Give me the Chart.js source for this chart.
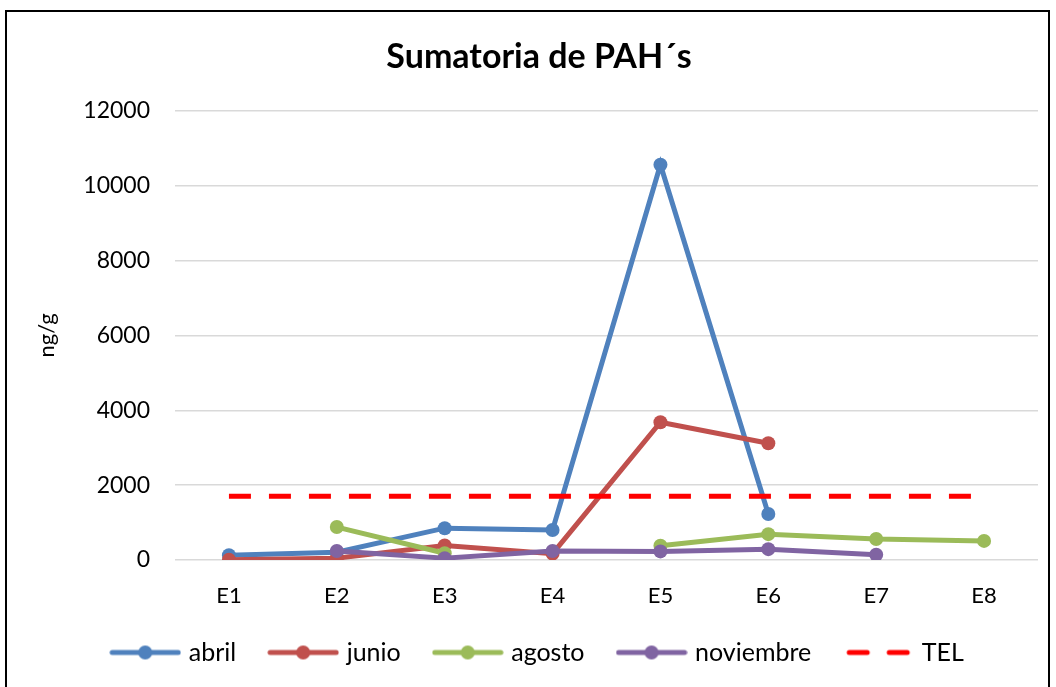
<!DOCTYPE html>
<html>
<head>
<meta charset="utf-8">
<script src="https://cdn.jsdelivr.net/npm/chart.js@4/dist/chart.umd.min.js"></script>
<style>
  html, body { margin: 0; padding: 0; background: #fff; }
  #wrap { position: relative; width: 1056px; height: 687px; overflow: hidden; }
  #frame { position: absolute; left: 5px; top: 10px; width: 1045px; height: 700px; border: 2px solid #000; box-sizing: border-box; }
  #chart { position: absolute; left: 0; top: 0; }
</style>
</head>
<body>
<div id="wrap">
  <div id="frame"></div>
  <canvas id="chart" width="1056" height="687"></canvas>
</div>
<script>
var estaciones = ["E1", "E2", "E3", "E4", "E5", "E6", "E7", "E8"];
var abril = [130, 210, 850, 800, 10560, 1230, null, null];
var junio = [10, 50, 390, 170, 3680, 3120, null, null];
var agosto = [null, 880, 180, null, 380, 690, 560, 510];
var noviembre = [null, 240, 50, 240, 230, 290, 140, null];
var tel = [1700, 1700, 1700, 1700, 1700, 1700, 1700, 1700];

var fuente = "Lato, 'Open Sans', sans-serif";

// little line+dot sample for the legend
function muestra(color, dashed) {
    var c = document.createElement("canvas");
    c.width = 72; c.height = 16;
    var g = c.getContext("2d");
    g.strokeStyle = color;
    g.lineWidth = 5;
    g.lineCap = "round";
    if (dashed) {
        g.beginPath(); g.moveTo(7, 8); g.lineTo(25, 8); g.stroke();
        g.beginPath(); g.moveTo(47, 8); g.lineTo(65, 8); g.stroke();
    } else {
        g.beginPath(); g.moveTo(3, 8); g.lineTo(69, 8); g.stroke();
        g.fillStyle = color;
        g.beginPath(); g.arc(36, 8, 7, 0, Math.PI * 2); g.fill();
    }
    return c;
}

function serie(nombre, datos, color) {
    return {
        label: nombre,
        data: datos,
        borderColor: color,
        backgroundColor: color,
        borderWidth: 5,
        pointRadius: 7,
        pointHoverRadius: 7,
        pointBackgroundColor: color,
        pointBorderWidth: 0,
        tension: 0,
        spanGaps: false,
        legendSample: muestra(color, false)
    };
}

var datasets = [
    serie("abril", abril, "#4F81BD"),
    serie("junio", junio, "#C0504D"),
    serie("agosto", agosto, "#9BBB59"),
    serie("noviembre", noviembre, "#8064A2"),
    {
        label: "TEL",
        data: tel,
        borderColor: "#FF0000",
        backgroundColor: "#FF0000",
        borderWidth: 5,
        borderDash: [22, 18],
        pointRadius: 0,
        tension: 0,
        legendSample: muestra("#FF0000", true)
    }
];

var ctx = document.getElementById("chart");
var myChart = new Chart(ctx, {
    type: 'line',
    data: {
        labels: estaciones,
        datasets: datasets.reverse()
    },
    options: {
        responsive: false,
        animation: false,
        // extra left padding so title and legend sit centred like the original
        layout: { padding: { left: 40, right: 18, top: 37, bottom: 12 } },
        plugins: {
            title: {
                display: true,
                text: "Sumatoria de PAH\u00b4s",
                color: "#000",
                font: { family: fuente, size: 34, weight: 'bold' },
                padding: { top: 0, bottom: 33 }
            },
            legend: {
                position: 'bottom',
                reverse: true,
                labels: {
                    usePointStyle: true,
                    pointStyleWidth: 62,
                    color: "#000",
                    font: { family: fuente, size: 25 },
                    padding: 36,
                    generateLabels: function (chart) {
                        var items = Chart.defaults.plugins.legend.labels.generateLabels(chart);
                        items.forEach(function (it) {
                            it.pointStyle = chart.data.datasets[it.datasetIndex].legendSample;
                        });
                        return items;
                    }
                }
            },
            tooltip: { enabled: false }
        },
        scales: {
            x: {
                offset: true,
                grid: { display: false, drawTicks: false },
                border: { display: false },
                ticks: { color: "#000", font: { family: fuente, size: 22 }, padding: 23 },
                afterFit: function (scale) { scale.height = 44; }
            },
            y: {
                min: 0,
                max: 12000,
                ticks: {
                    stepSize: 2000,
                    color: "#000",
                    font: { family: fuente, size: 23 },
                    padding: 25,
                    callback: function (v) { return String(v); }
                },
                grid: { color: "#D9D9D9", lineWidth: 1.5, drawTicks: false },
                border: { display: false },
                title: {
                    display: true,
                    text: "ng/g",
                    color: "#000",
                    font: { family: fuente, size: 22 },
                    padding: { top: -6, bottom: 0 }
                },
                afterFit: function (scale) { scale.width = 135; }
            }
        }
    }
});
</script>
</body>
</html>
